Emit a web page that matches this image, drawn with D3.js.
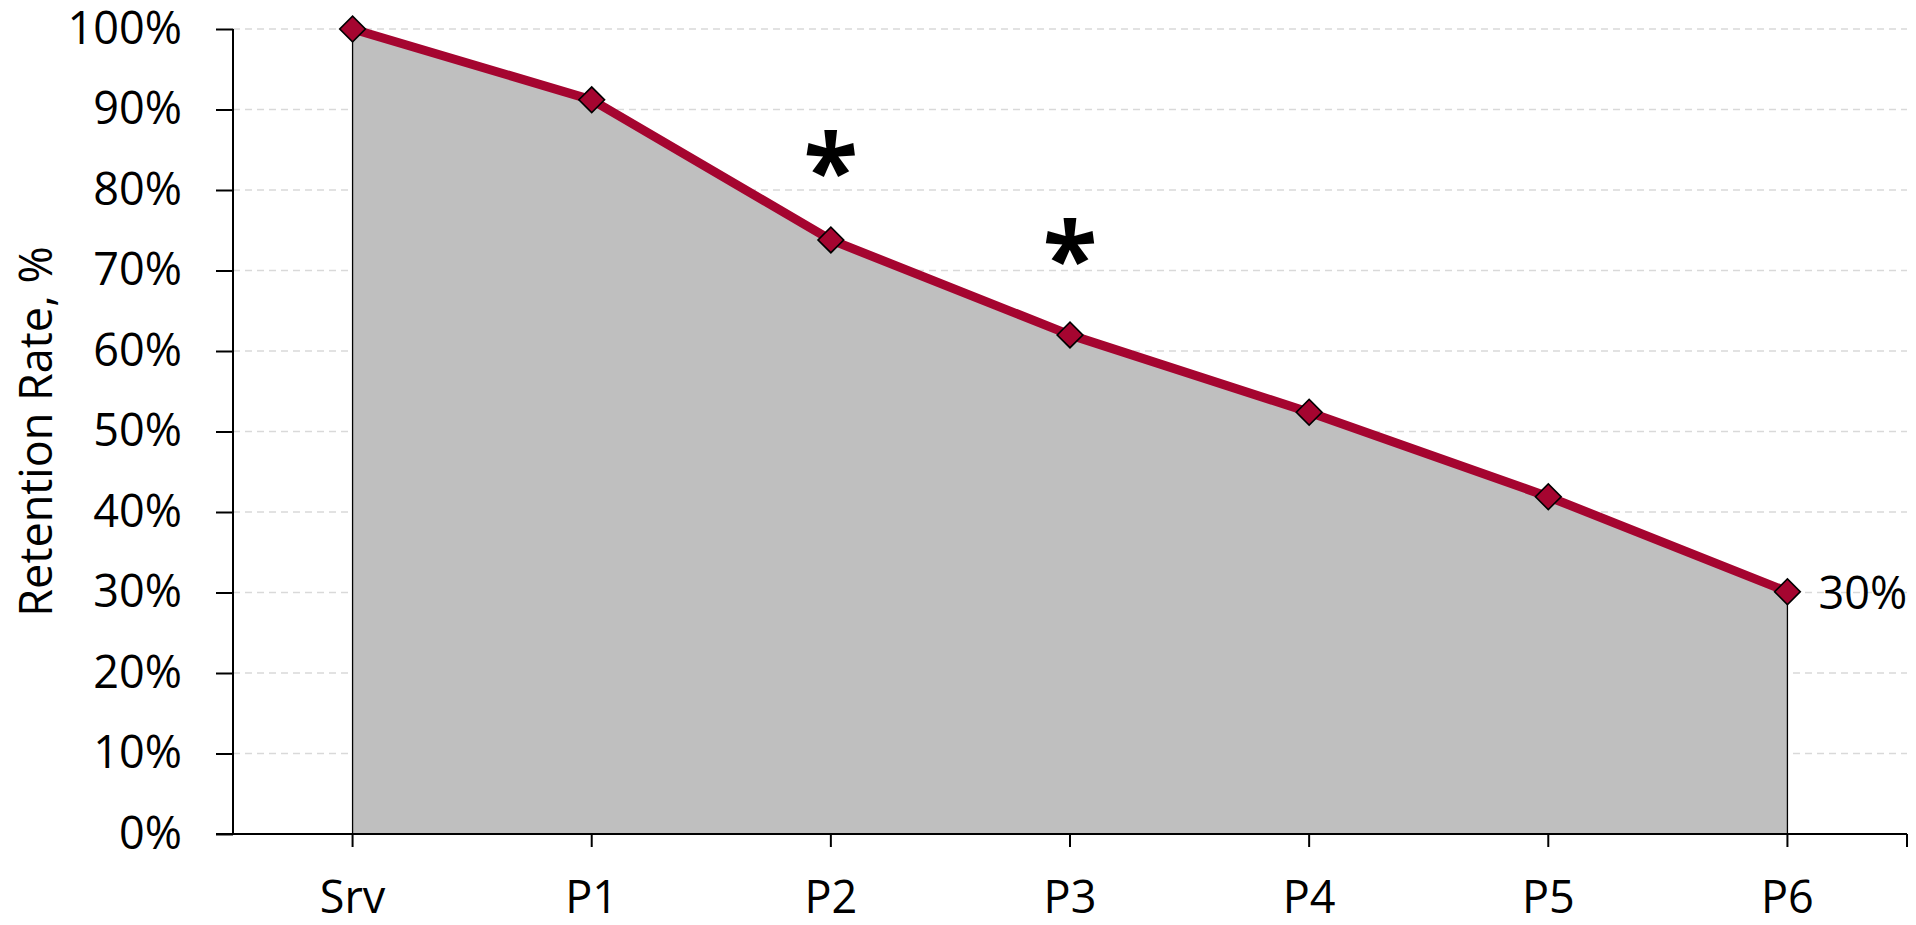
<!DOCTYPE html>
<html><head><meta charset="utf-8">
<script src="https://cdn.jsdelivr.net/npm/d3@7"></script>
<style>body{margin:0;background:#fff}svg{display:block}text{font-family:"Open Sans",sans-serif}</style>
</head><body><svg id="c" width="1916" height="925"></svg>
<script>
const categories = ["Srv","P1","P2","P3","P4","P5","P6"];
const retention = [100, 91.2, 73.8, 62.0, 52.4, 41.9, 30.1];
const yTicks = [0,10,20,30,40,50,60,70,80,90,100];
const starCategories = ["P2","P3"];
const starValues = [84, 73];
const endLabel = "30%";

const svg = d3.select("#c");
const L = 233, R = 1907, T = 29, B = 834;
const x = d3.scaleBand().domain(categories).range([L, R]);
const cx = c => x(c) + x.bandwidth()/2;
const y = d3.scaleLinear().domain([0,100]).range([B, T]);
const data = categories.map((c,i)=>({c, v: retention[i]}));

// gridlines
svg.append("g").selectAll("line").data(yTicks.filter(t=>t>0)).join("line")
  .attr("x1", L).attr("x2", R).attr("y1", d=>y(d)).attr("y2", d=>y(d))
  .attr("stroke", "#d9d9d9").attr("stroke-width", 1.5).attr("stroke-dasharray", "7,5");

// area
const area = d3.area().x(d=>cx(d.c)).y0(y(0)).y1(d=>y(d.v));
svg.append("path").datum(data).attr("d", area)
  .attr("fill", "#bfbfbf").attr("stroke", "#000").attr("stroke-width", 1.3);

// y axis
const yAxis = svg.append("g").attr("transform", `translate(${L},0)`)
  .call(d3.axisLeft(y).tickValues(yTicks).tickSize(17).tickPadding(34).tickFormat(d=>d+"%"));
yAxis.select(".domain").attr("stroke","#000").attr("stroke-width",2).attr("d", `M0,${T}V${B}`);
yAxis.selectAll(".tick line").attr("stroke","#000").attr("stroke-width",2);
yAxis.selectAll(".tick text").attr("font-size", 45).attr("fill","#000")
  .attr("font-family","'Open Sans',sans-serif");

// x axis
const xg = svg.append("g").attr("transform", `translate(0,${B})`);
xg.append("line").attr("x1", 216).attr("x2", R).attr("y1",0).attr("y2",0)
  .attr("stroke","#000").attr("stroke-width",2);
const tickPos = categories.map(cx).concat([R]);
xg.selectAll("line.t").data(tickPos).join("line").attr("class","t")
  .attr("x1", d=>d).attr("x2", d=>d).attr("y1",0).attr("y2",13)
  .attr("stroke","#000").attr("stroke-width",2);
xg.selectAll("text").data(categories).join("text")
  .attr("x", d=>cx(d)).attr("y", 79).attr("text-anchor","middle")
  .attr("font-size", 45).attr("fill","#000").text(d=>d);

// y label
svg.append("text").attr("transform", `translate(52,${(T+B)/2}) rotate(-90)`)
  .attr("text-anchor","middle").attr("font-size",45).attr("fill","#000")
  .text("Retention Rate, %");

// line
const line = d3.line().x(d=>cx(d.c)).y(d=>y(d.v));
svg.append("path").datum(data).attr("d", line)
  .attr("fill","none").attr("stroke","#a50530").attr("stroke-width",9).attr("stroke-linejoin","round");

// markers
svg.append("g").selectAll("path").data(data).join("path")
  .attr("d", d3.symbol().type(d3.symbolSquare).size(330))
  .attr("transform", d=>`translate(${cx(d.c)},${y(d.v)}) rotate(45)`)
  .attr("fill","#a50530").attr("stroke","#000").attr("stroke-width",1.6);

// asterisks
svg.append("g").selectAll("text").data(starCategories).join("text")
  .attr("x", d=>cx(d)).attr("y", (d,i)=>y(starValues[i]))
  .attr("text-anchor","middle").attr("dominant-baseline","central")
  .attr("font-size", 100).attr("font-weight","bold").attr("fill","#000")
  .attr("dy", "0.10em").text("*");

// end label
const last = data[data.length-1];
svg.append("text").attr("x", cx(last.c)+31).attr("y", y(last.v))
  .attr("dominant-baseline","central").attr("font-size",45).attr("fill","#000").text(endLabel);
</script></body></html>
